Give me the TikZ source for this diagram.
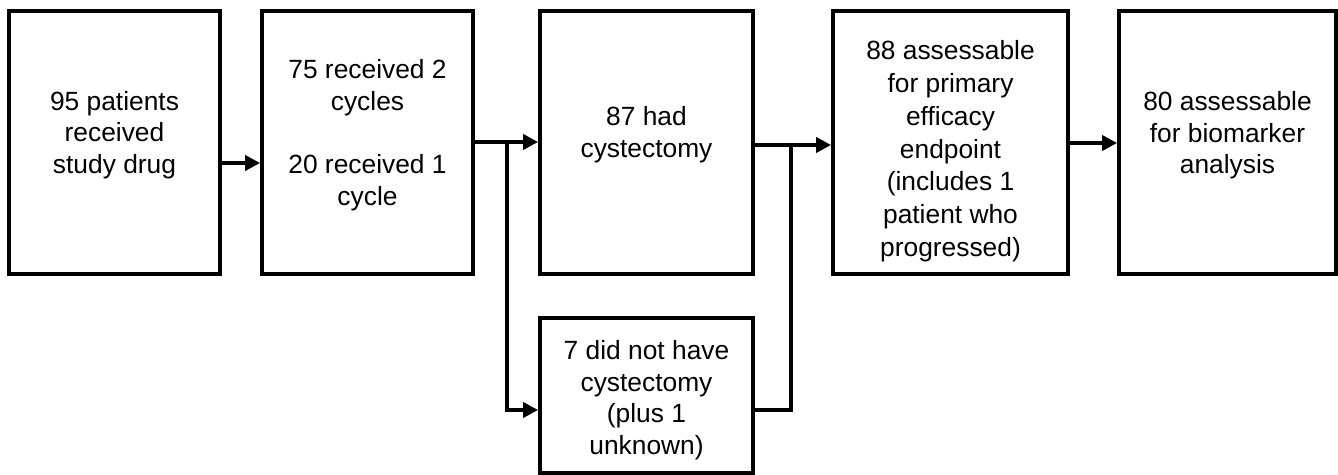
\documentclass[tikz,border=0pt]{standalone}
\usepackage{fontspec}
\setmainfont{Liberation Sans}
\usetikzlibrary{arrows.meta}
\newcommand{\boxtext}[2]{\raisebox{#1}[\height][\depth]{\begin{tabular}{@{}c@{}}#2\end{tabular}}}
\tikzset{
  box/.style={draw, line width=2.2pt, rectangle, inner sep=0pt, minimum height=5.26cm,
              font=\fontsize{15}{18}\selectfont},
  conn/.style={line width=2.2pt},
  arr/.style={conn, -{Triangle[length=0.3cm,width=0.3cm]}}
}
\begin{document}
\begin{tikzpicture}[x=0.02cm,y=-0.02cm]
\useasboundingbox (0,0) rectangle (1338,475);
\node[box, minimum width=4.22cm] (b1) at (114.5,142.5) {\boxtext{0.14cm}{95 patients\\received\\study drug}};
\node[box, minimum width=4.22cm] (b2) at (367.5,142.5) {\boxtext{0.14cm}{75 received 2\\cycles\\ \\20 received 1\\cycle}};
\node[box, minimum width=4.26cm] (b3) at (646.5,142.5) {\boxtext{0.15cm}{87 had\\cystectomy}};
\node[box, minimum width=4.70cm, font=\fontsize{15}{18.7}\selectfont] (b4) at (950.5,142.5) {\boxtext{-0.18cm}{88 assessable\\for primary\\efficacy\\endpoint\\(includes 1\\patient who\\progressed)}};
\node[box, minimum width=4.34cm] (b5) at (1227.5,142.5) {\boxtext{0.13cm}{80 assessable\\for biomarker\\analysis}};
\node[box, minimum width=4.26cm, minimum height=3.10cm] (b6) at (646.5,395.5) {\boxtext{-0.1cm}{7 did not have\\cystectomy\\(plus 1\\unknown)}};
\coordinate (a1) at (0,163);
\coordinate (a5) at (0,143);
\coordinate (a6) at (0,410);
\coordinate (j1) at (507,142);
\coordinate (j2) at (791,145);
\draw[arr] (b1.east |- a1) -- (b2.west |- a1);
\draw[arr] (b2.east |- j1) -- (b3.west |- j1);
\draw[arr] (j1) |- (b6.west |- a6);
\draw[arr] (b3.east |- j2) -- (b4.west |- j2);
\draw[conn] (b6.east |- a6) -| (j2);
\draw[arr] (b4.east |- a5) -- (b5.west |- a5);
\end{tikzpicture}
\end{document}
